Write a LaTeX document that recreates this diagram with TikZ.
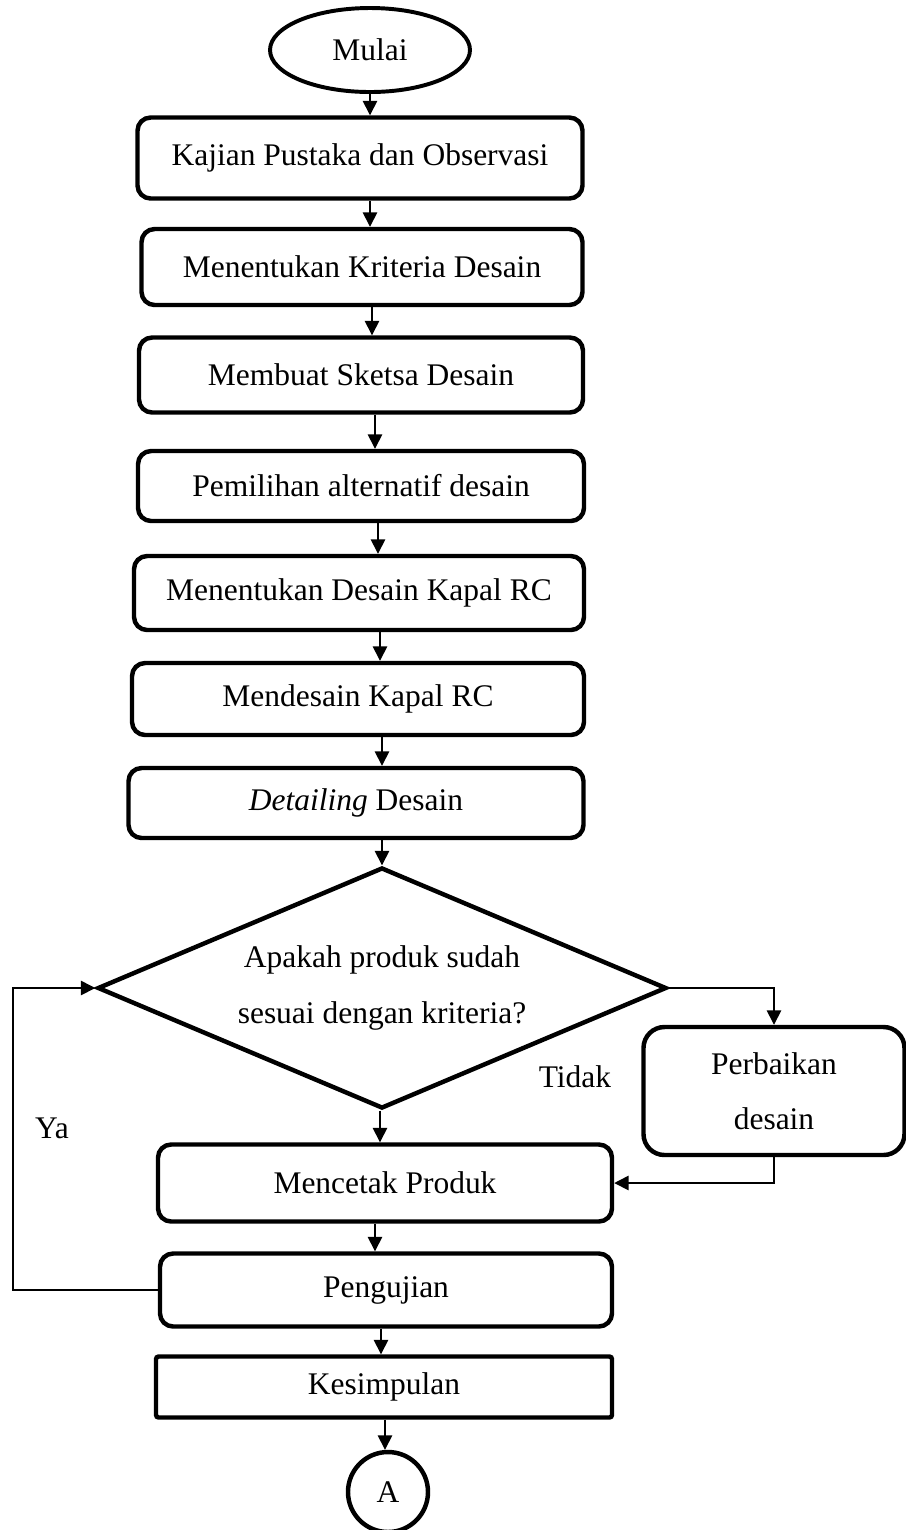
\documentclass[tikz,border=0pt]{standalone}
\usepackage{fontspec}
\setmainfont{Liberation Serif}
\usetikzlibrary{arrows.meta,shapes.geometric}
\newcommand{\pxu}{0.0134cm}

\begin{document}
\begin{tikzpicture}[x=0.0134cm, y=-0.0134cm,
    font=\fontsize{12}{14}\selectfont,
    proses/.style={draw, line width=1.7pt, rounded corners=5pt, align=center},
    arr/.style={-{Triangle[length=5.5pt,width=5.5pt]}, line width=0.6pt}]
    \useasboundingbox (0,0) rectangle (906,1530);

    % Start
    \node[draw, ellipse, line width=1.5pt, minimum width=200*\pxu, minimum height=84*\pxu] (mulai) at (370,50) {Mulai};

    % Process steps
    \node[proses, minimum width=445*\pxu, minimum height=81*\pxu] (kajian) at (360,158) {Kajian Pustaka dan Observasi};
    \node[proses, minimum width=441*\pxu, minimum height=76*\pxu] (kriteria) at (362,267) {Menentukan Kriteria Desain};
    \node[proses, minimum width=444*\pxu, minimum height=75*\pxu] (sketsa) at (361,375) {Membuat Sketsa Desain};
    \node[proses, minimum width=446*\pxu, minimum height=70*\pxu] (pilih) at (361,486) {Pemilihan alternatif desain};
    \node[proses, minimum width=450*\pxu, minimum height=74*\pxu] (tentukan) at (359,593) {Menentukan Desain Kapal RC};
    \node[proses, minimum width=452*\pxu, minimum height=72*\pxu] (mendesain) at (358,699) {Mendesain Kapal RC};
    \node[proses, minimum width=455*\pxu, minimum height=70*\pxu] (detail) at (356,803) {\textit{Detailing} Desain};

    % Decision
    \node[draw, diamond, aspect=2.36, inner sep=0pt, line width=1.7pt, minimum width=569*\pxu, minimum height=241*\pxu,
        align=center, font=\fontsize{12}{21}\selectfont] (cek) at (382,988) {Apakah produk sudah\\sesuai dengan kriteria?};
    \node[proses, rounded corners=8pt, minimum width=261*\pxu, minimum height=128*\pxu,
        font=\fontsize{12}{21}\selectfont] (perbaikan) at (774,1091) {Perbaikan\\desain};

    % Production and testing
    \node[proses, minimum width=454*\pxu, minimum height=77*\pxu] (mencetak) at (385,1183) {Mencetak Produk};
    \node[proses, minimum width=452*\pxu, minimum height=73*\pxu] (pengujian) at (386,1290) {Pengujian};
    \node[proses, rounded corners=1pt, minimum width=456*\pxu, minimum height=61*\pxu] (kesimpulan) at (384,1387) {Kesimpulan};

    % Connector
    \node[draw, circle, line width=1.7pt, inner sep=0pt, minimum size=80*\pxu] (konektor) at (388,1492) {A};

    % Main flow
    \foreach \a/\b/\x in {mulai/kajian/370, kajian/kriteria/370, kriteria/sketsa/372, sketsa/pilih/375,
        pilih/tentukan/378, tentukan/mendesain/380, mendesain/detail/382, detail/cek/382,
        cek/mencetak/380, mencetak/pengujian/375, pengujian/kesimpulan/381, kesimpulan/konektor/385}
        \draw[arr] (\a.south -| \x,0) -- (\b.north -| \x,0);

    % Branches
    \draw[arr] (cek.east) -| (perbaikan.north);
    \draw[arr] (perbaikan.south) |- (mencetak.east);
    \draw[arr] (pengujian.west) -- (pengujian.west -| 13,0) |- (cek.west);

    % Labels
    \node (ya) at (52,1128) {Ya};
    \node (tidak) at (575,1077) {Tidak};
\end{tikzpicture}
\end{document}
